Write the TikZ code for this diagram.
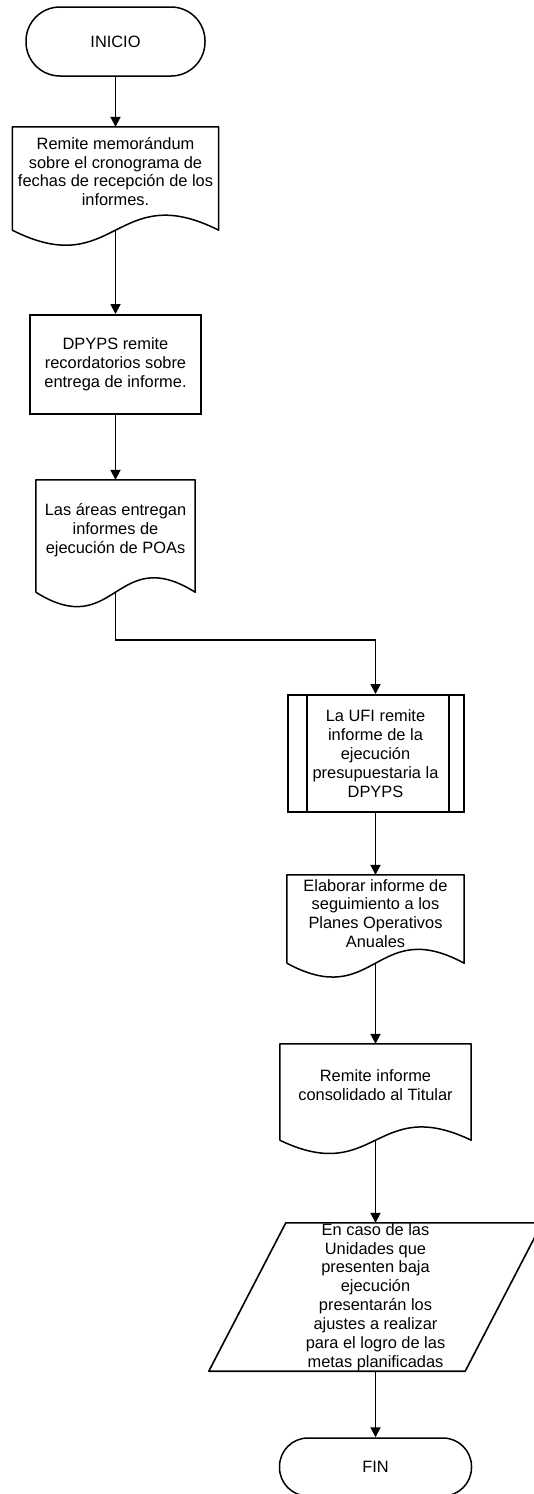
\documentclass[tikz,border=0pt]{standalone}
\usepackage{fontspec}
\setmainfont{Liberation Sans}
\usetikzlibrary{arrows.meta,calc}
\begin{document}
\begin{tikzpicture}[x=1pt,y=-1pt,
  every node/.style={font=\fontsize{16.4}{18.9}\selectfont, align=center, inner sep=0pt},
  term/.style={draw, line width=1.5pt, rounded corners=28pt},
  procbox/.style={draw, line width=2pt},
  area/.style={inner sep=0pt},
  docline/.style={draw, line width=1.5pt, line join=round},
  arr/.style={line width=1.8pt, -{Triangle[width=10pt,length=10pt]}},
  conn/.style={line width=1.8pt}
]
\path[use as bounding box, clip] (0,0) rectangle (534,1494);
\fill[white] (0,0) rectangle (534,1494);

% INICIO
\node[term, rounded corners=34pt, minimum width=179pt, minimum height=69pt] (ini) at (115.5,41.5) {INICIO};

% document 1
\node[area, minimum width=206pt, minimum height=103pt] (d1) at (115.5,178.5) {};
\draw[docline] (d1.south west) -- (d1.north west) -- (d1.north east) -- (d1.south east)
  .. controls ($(d1.south)+(0,-52)$) and ($(d1.south)+(0,52)$) .. (d1.south west);
\node (d1t) at (115.5,171.5) {Remite memorándum\\sobre el cronograma de\\fechas de recepción de los\\informes.};

% box 2
\node[procbox, minimum width=171pt, minimum height=99pt] (b2) at (115.5,364.5) {DPYPS remite\\recordatorios sobre\\entrega de informe.};

% document 3
\node[area, minimum width=159pt, minimum height=112pt] (d3) at (115.5,536) {};
\draw[docline] (d3.south west) -- (d3.north west) -- (d3.north east) -- (d3.south east)
  .. controls ($(d3.south)+(0,-50)$) and ($(d3.south)+(0,50)$) .. (d3.south west);
\node (d3t) at (115.5,530) {Las áreas entregan\\informes de\\ejecución de POAs};

% UFI predefined process
\node[procbox, minimum width=176pt, minimum height=117pt] (ufi) at (375.5,753.5) {La UFI remite\\informe de la\\ejecución\\presupuestaria la\\DPYPS};
\draw[line width=2pt] ($(ufi.north west)+(20,0)$) -- ($(ufi.south west)+(20,0)$);
\draw[line width=2pt] ($(ufi.north east)+(-16,0)$) -- ($(ufi.south east)+(-16,0)$);

% document Elaborar
\node[area, minimum width=177pt, minimum height=88pt] (d5) at (375.5,919) {};
\draw[docline] (d5.south west) -- (d5.north west) -- (d5.north east) -- (d5.south east)
  .. controls ($(d5.south)+(0,-48)$) and ($(d5.south)+(0,48)$) .. (d5.south west);
\node (d5t) at (375.5,913.5) {Elaborar informe de\\seguimiento a los\\Planes Operativos\\Anuales};

% document Remite
\node[area, minimum width=191pt, minimum height=96pt] (d6) at (375.5,1092) {};
\draw[docline] (d6.south west) -- (d6.north west) -- (d6.north east) -- (d6.south east)
  .. controls ($(d6.south)+(0,-46)$) and ($(d6.south)+(0,46)$) .. (d6.south west);
\node (d6t) at (375.5,1085) {Remite informe\\consolidado al Titular};

% parallelogram
\node[area, minimum width=256pt, minimum height=148pt] (par) at (375.5,1297) {En caso de las\\Unidades que\\presenten baja\\ejecución\\presentarán los\\ajustes a realizar\\para el logro de las\\metas planificadas};
\draw[line width=1.6pt, line join=round] ($(par.north west)+(38.5,0)$) -- ($(par.north east)+(38.5,0)$) -- ($(par.south east)+(-38.5,0)$) -- ($(par.south west)+(-38.5,0)$) -- cycle;

% FIN
\node[term, rounded corners=28.5pt, minimum width=192pt, minimum height=58pt] (fin) at (375.5,1467) {FIN};

% connectors
\coordinate (bend) at (115.5,640);
\draw[arr] (ini.south) -- (d1.north);
\draw[arr] (d1.south) -- (b2.north);
\draw[arr] (b2.south) -- (d3.north);
\draw[arr] (d3.south) -- (bend) -| (ufi.north);
\draw[arr] (ufi.south) -- (d5.north);
\draw[arr] (d5.south) -- (d6.north);
\draw[arr] (d6.south) -- (par.north);
\draw[arr] (par.south) -- (fin.north);
\end{tikzpicture}
\end{document}
